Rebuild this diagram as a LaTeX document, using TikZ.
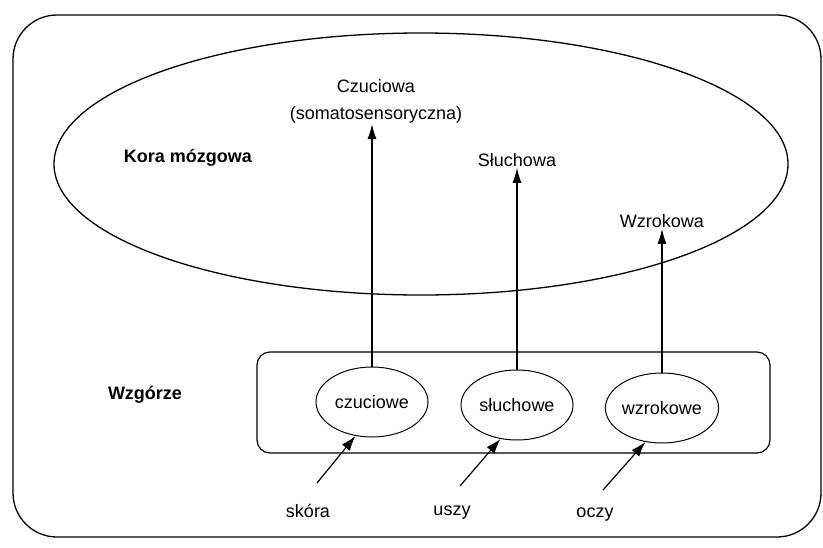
\documentclass[tikz,border=0pt]{standalone}
\usepackage{fontspec}
\setmainfont{Liberation Sans}
\usetikzlibrary{arrows.meta,shapes.geometric}
\begin{document}
\begin{tikzpicture}[x=1pt,y=-1pt,
  every node/.style={font=\fontsize{18}{27}\selectfont},
  frame/.style={draw,line width=1.3pt,rounded corners=44pt},
  cortex/.style={draw,ellipse,line width=1.3pt,minimum width=734pt,minimum height=262pt,inner sep=0pt},
  nucleus/.style={draw,ellipse,line width=1pt,minimum width=112pt,minimum height=70pt,inner sep=0pt},
  area/.style={align=center,inner sep=1pt},
  heading/.style={font=\fontsize{18}{22}\selectfont\bfseries},
  organ/.style={inner sep=1pt},
  up/.style={line width=1.2pt,-{Latex[length=15pt,width=9pt]}},
  inlet/.style={line width=1.2pt,-{Latex[length=15pt,width=10pt]}}
]
\useasboundingbox (0,0) rectangle (823,547);

% outer frame and cortex
\draw[frame] (13,15) rectangle (821,537);
\node[cortex] (kora) at (421,164) {};
\node[heading] (koraT) at (188,158) {Kora mózgowa};

% thalamus box with its nuclei
\draw[draw,line width=1.2pt,rounded corners=13pt] (257,352) rectangle (770,453);
\node[heading] (wzg) at (145,395) {Wzgórze};
\node[nucleus] (e1) at (372,402) {czuciowe};
\node[nucleus] (e2) at (517,405) {słuchowe};
\node[nucleus] (e3) at (662,408) {wzrokowe};

% cortical areas
\node[area] (a1) at (376,101) {Czuciowa\\(somatosensoryczna)};
\node[area] (a2) at (517,160) {Słuchowa};
\node[area] (a3) at (662,221) {Wzrokowa};

\draw[up] (e1.north) -- (e1.north |- a1.south);
\draw[up] (e2.north) -- (e2.north |- a2.south);
\draw[up] (e3.north) -- (e3.north |- a3.south);

% sense organs
\node[organ] (s1) at (308,511) {skóra};
\node[organ] (s2) at (452,513) {uszy};
\node[organ] (s3) at (595,515) {oczy};
\coordinate (t1) at (317,483);
\coordinate (t2) at (460,486);
\coordinate (t3) at (603,490);
\draw[inlet] (t1) -- (e1.-116);
\draw[inlet] (t2) -- (e2.-116);
\draw[inlet] (t3) -- (e3.-116);
\end{tikzpicture}
\end{document}
